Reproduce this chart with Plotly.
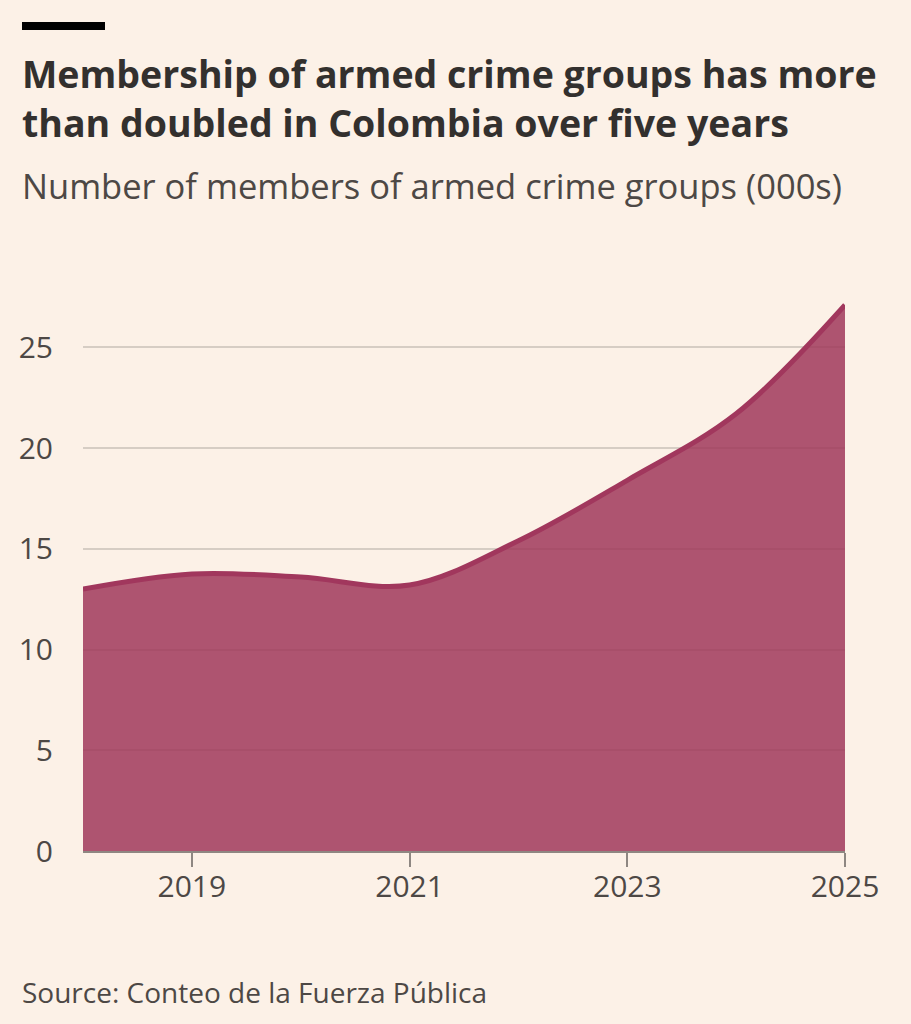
"""Membership of armed crime groups in Colombia, 2018-2025 (000s)."""

import plotly.graph_objects as go

years = [2018, 2019, 2020, 2021, 2022, 2023, 2024, 2025]
members = [13.0, 13.75, 13.6, 13.2, 15.4, 18.4, 21.7, 27.1]

y_ticks = [0, 5, 10, 15, 20, 25]
x_ticks = [2019, 2021, 2023, 2025]

title = "Membership of armed crime groups has more<br>than doubled in Colombia over five years"
subtitle = "Number of members of armed crime groups (000s)"
source = "Source: Conteo de la Fuerza Pública"

W, H = 911, 1024
L, R, T, B = 83, 66, 303, 173
BG = "#fcf1e7"
FONT = "Open Sans"


def px_x(x):
    # page pixel -> paper x
    return (x - L) / (W - L - R)


def px_y(y):
    # page pixel -> paper y
    return (H - B - y) / (H - T - B)


fig = go.Figure()
fig.add_trace(
    go.Scatter(
        x=years,
        y=members,
        mode="lines",
        line=dict(color="#a1375d", width=5, shape="spline"),
        fill="tozeroy",
        fillcolor="rgba(160,56,91,0.85)",
        hoverinfo="x+y",
        showlegend=False,
    )
)

fig.update_layout(
    width=W,
    height=H,
    margin=dict(l=L, r=R, t=T, b=B),
    paper_bgcolor=BG,
    plot_bgcolor=BG,
    font=dict(family=FONT, color="#4d4845"),
    xaxis=dict(
        range=[2018, 2025],
        tickvals=x_ticks,
        ticks="outside",
        ticklen=14,
        tickwidth=1.5,
        tickcolor="#8e8782",
        ticklabelstandoff=-6,
        showgrid=False,
        showline=True,
        linecolor="#8e8782",
        linewidth=1.5,
        zeroline=False,
        tickfont=dict(size=30, color="#4d4845"),
        fixedrange=True,
    ),
    yaxis=dict(
        range=[0, 27.2],
        tickvals=y_ticks,
        showgrid=True,
        gridcolor="#d6cdc4",
        gridwidth=1.5,
        zeroline=False,
        showline=False,
        ticks="",
        ticklabelstandoff=29,
        tickfont=dict(size=30, color="#4d4845"),
        fixedrange=True,
    ),
    shapes=[
        dict(
            type="rect", xref="paper", yref="paper",
            x0=px_x(22), x1=px_x(105), y0=px_y(30), y1=px_y(22),
            fillcolor="#000000", line=dict(width=0),
        )
    ],
    annotations=[
        dict(
            text=f"<b>{title}</b>", xref="paper", yref="paper",
            x=px_x(20), y=px_y(46), xanchor="left", yanchor="top", align="left",
            showarrow=False, font=dict(size=37.5, color="#33302e", family=FONT),
        ),
        dict(
            text=subtitle, xref="paper", yref="paper",
            x=px_x(20), y=px_y(160), xanchor="left", yanchor="top", align="left",
            showarrow=False, font=dict(size=34.5, color="#4d4845", family=FONT),
        ),
        dict(
            text=source, xref="paper", yref="paper",
            x=px_x(20), y=px_y(971), xanchor="left", yanchor="top", align="left",
            showarrow=False, font=dict(size=28, color="#4d4845", family=FONT),
        ),
    ],
)

fig.write_html(
    "out.html",
    config={"displayModeBar": False},
    post_script="document.body.style.margin='0';document.body.style.overflow='hidden';",
)
